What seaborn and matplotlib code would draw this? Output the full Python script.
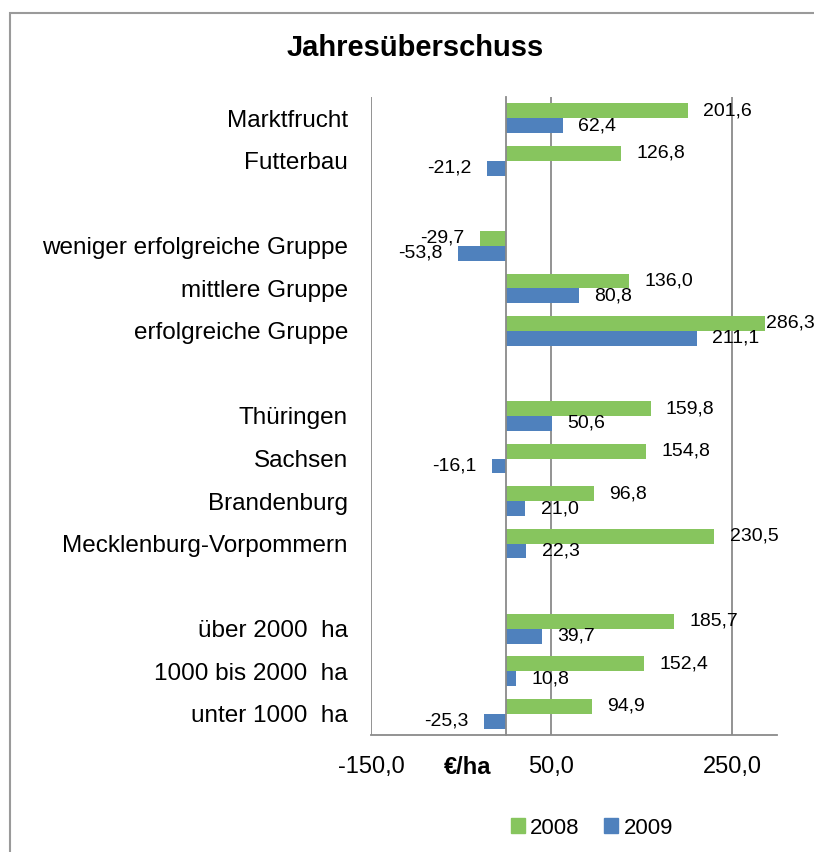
import numpy as np
import pandas as pd
import seaborn as sns
from matplotlib import pyplot as plt
from matplotlib.patches import Patch, Rectangle
from matplotlib.ticker import FuncFormatter

# blank names keep the gaps between the groups
categories = ["Marktfrucht", "Futterbau", " ",
              "weniger erfolgreiche Gruppe", "mittlere Gruppe", "erfolgreiche Gruppe", "  ",
              "Thüringen", "Sachsen", "Brandenburg", "Mecklenburg-Vorpommern", "   ",
              "über 2000  ha", "1000 bis 2000  ha", "unter 1000  ha"]
v2008 = [201.6, 126.8, None, -29.7, 136.0, 286.3, None,
         159.8, 154.8, 96.8, 230.5, None, 185.7, 152.4, 94.9]
v2009 = [62.4, -21.2, None, -53.8, 80.8, 211.1, None,
         50.6, -16.1, 21.0, 22.3, None, 39.7, 10.8, -25.3]
years = ["2008", "2009"]
x_ticks = [-150, 50, 250]

green = "#87C55E"
blue = "#4F81BD"
gray = "#8A8A8A"

rows = []
for cat, a, b in zip(categories, v2008, v2009):
    if a is not None:
        rows.append((cat, "2008", a))
        rows.append((cat, "2009", b))
df = pd.DataFrame(rows, columns=["category", "year", "value"])

sns.set_style("white")
plt.rcParams["font.family"] = ["Liberation Sans", "DejaVu Sans"]
plt.rcParams["text.color"] = "black"

fig = plt.figure(figsize=(8.14, 8.52), dpi=100)
ax = fig.add_axes([371/814, 1-735/852, (777-371)/814, (735-97)/852])

sns.barplot(data=df, x="value", y="category", hue="year", order=categories,
            hue_order=years, palette=[green, blue], orient="h", width=0.7,
            saturation=1, errorbar=None, legend=False, linewidth=0, ax=ax)

fmt = lambda v: f"{v:.1f}".replace(".", ",")
for c in ax.containers:
    texts = ax.bar_label(c, fmt=fmt, padding=11, fontsize=14, color="black")
    for t, v in zip(texts, c.datavalues):
        if v > 280:
            t.xyann = (1, 0)

ax.set_xlim(-150, 300)
ax.set_xticks(x_ticks)
ax.xaxis.set_major_formatter(FuncFormatter(lambda v, p: fmt(v)))
ax.set_xlabel("")
ax.set_ylabel("")
ax.set_axisbelow(True)
ax.grid(axis="x", color=gray, linewidth=1.3)
ax.grid(axis="y", visible=False)

for s in ["top", "right"]:
    ax.spines[s].set_visible(False)
ax.spines["left"].set_position(("data", 0))
ax.spines["left"].set_color(gray)
ax.spines["left"].set_linewidth(1.3)
ax.spines["bottom"].set_color(gray)
ax.spines["bottom"].set_linewidth(1.3)

ax.set_yticks(np.arange(-0.5, len(categories)), minor=True)
ax.tick_params(axis="y", which="major", length=0, pad=114, labelsize=17.5, labelcolor="black")
ax.tick_params(axis="y", which="minor", length=4.5, width=1.3, color=gray, direction="out")
ax.tick_params(axis="x", length=5, width=1.3, color=gray, direction="out", pad=10,
               labelsize=17, labelcolor="black")

fig.text(415/814, 1-48/852, "Jahresüberschuss", ha="center", va="center",
         fontsize=21, fontweight="bold", color="black")
fig.text(468/814, 1-767/852, "€/ha", ha="center", va="center",
         fontsize=17, fontweight="bold", color="black")

handles = [Patch(color=green, label="2008"), Patch(color=blue, label="2009")]
fig.legend(handles=handles, loc="center", bbox_to_anchor=(592/814, 1-828/852),
           ncol=2, frameon=False, fontsize=16, handlelength=0.62, handleheight=0.62,
           handletextpad=0.25, columnspacing=1.1, labelcolor="black")

fig.add_artist(Rectangle((10/814, -0.5), 2, 1.5-13/852, transform=fig.transFigure,
                         fill=False, edgecolor="#9A9A9A", linewidth=1.5))

fig.savefig("out.png", dpi=100)
